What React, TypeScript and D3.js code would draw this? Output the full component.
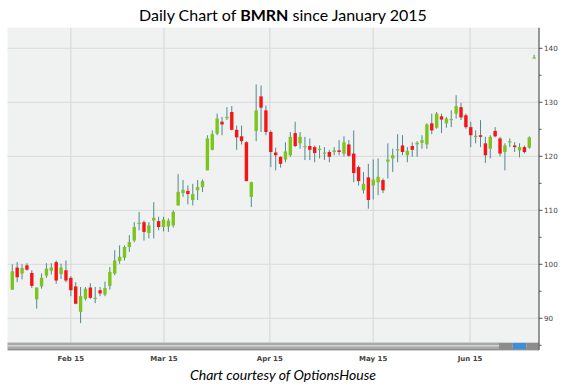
import React from "react";
import * as d3 from "d3";

const opens = [95.3,99.4,98.3,99.8,98.4,93.5,95.9,97.9,98.8,100.4,98.2,98.9,97.5,95.9,91.2,93.6,95.7,93.6,95.2,94.4,96.0,98.3,100.6,101.2,103.2,104.4,107.5,107.8,105.8,108.1,108.0,106.9,107.0,107.2,110.9,113.2,113.6,111.9,113.7,114.3,117.4,121.2,124.2,126.4,127.1,128.2,124.9,123.7,122.6,112.5,124.7,131.1,128.5,124.5,120.7,119.9,119.4,120.2,124.3,122.4,121.7,121.9,121.7,121.2,120.6,120.8,120.8,121.1,120.5,122.2,120.5,118.0,113.7,116.1,114.6,115.2,115.6,119.0,119.6,121.2,122.0,120.2,121.9,122.2,122.5,122.2,126.1,125.3,127.4,126.1,126.8,127.9,129.1,127.6,125.4,123.6,123.9,122.4,121.4,124.7,123.3,120.8,122.6,122.0,121.1,121.7,121.6,138.2];
const highs = [100.0,100.4,100.0,100.2,98.9,95.7,98.3,100.2,100.2,100.7,100.1,100.7,97.8,96.7,95.8,95.8,96.5,95.8,95.8,96.8,99.5,102.6,103.5,103.5,105.4,107.8,109.7,108.1,107.8,111.5,108.8,108.8,108.5,110.0,116.7,115.6,114.6,114.9,115.6,115.7,123.9,124.8,127.9,127.3,129.1,129.3,125.7,125.7,122.8,115.3,133.3,133.1,129.4,124.8,121.6,120.0,122.6,124.5,126.4,124.5,123.6,123.3,122.0,122.0,121.7,121.2,121.7,123.0,123.7,123.0,124.8,118.3,117.1,118.6,119.4,119.6,115.9,122.4,121.4,124.1,123.9,121.7,122.6,122.8,123.9,126.1,127.9,128.2,127.9,127.3,128.5,131.3,129.9,127.9,126.4,124.8,126.7,123.6,123.9,125.4,123.6,122.4,123.3,122.6,122.4,122.0,123.7,138.8];
const lows = [95.3,96.7,97.2,98.8,95.6,91.8,95.5,97.5,98.1,96.4,97.3,96.7,94.1,92.6,89.1,93.3,93.6,92.8,94.1,94.1,95.3,98.0,100.1,100.7,102.3,104.1,106.3,104.4,104.8,104.8,106.3,106.1,106.0,106.8,110.9,112.5,111.1,110.9,111.9,113.4,117.4,121.1,123.9,123.9,126.7,124.8,121.2,122.2,115.4,110.6,122.8,124.5,123.9,118.0,117.4,117.9,118.9,119.9,121.7,121.4,119.3,119.3,118.9,119.6,119.3,118.9,120.2,120.2,120.0,119.9,115.2,114.6,113.1,110.3,112.0,112.8,113.2,115.9,117.1,118.9,120.2,118.9,119.9,119.9,121.4,121.4,124.1,125.1,124.3,125.3,125.4,127.0,126.7,125.1,121.7,122.4,121.7,118.8,119.6,123.5,120.0,117.4,121.7,120.8,119.8,120.5,121.4,138.2];
const closes = [98.7,97.6,99.3,99.0,96.0,95.7,97.5,99.2,99.4,97.0,99.4,97.0,95.2,92.7,94.1,95.5,93.8,93.8,94.6,95.6,98.6,100.7,101.4,103.2,104.1,106.9,107.7,106.0,107.2,108.6,106.9,108.3,108.1,109.7,113.4,113.8,113.0,113.0,114.3,115.4,123.3,124.1,127.0,125.9,127.3,124.9,123.5,122.8,115.4,115.2,128.5,129.0,124.5,120.8,120.2,118.6,120.9,123.6,121.9,123.6,121.9,121.2,120.6,121.4,120.7,119.9,121.1,120.8,122.6,120.1,116.9,115.4,114.9,111.9,115.7,116.2,113.7,119.4,120.2,121.3,120.8,121.0,121.2,122.5,123.0,125.9,124.8,127.9,126.8,127.0,126.9,129.3,127.2,125.4,123.9,123.8,123.6,120.2,123.6,123.7,120.5,122.0,122.8,121.7,121.7,120.8,123.5,138.3];

const dateTickLabels = ["Feb 15", "Mar 15", "Apr 15", "May 15", "Jun 15"];
const dateTickIndex = [12, 31.1, 52.8, 74, 93.85];
const priceTicks = [90, 100, 110, 120, 130, 140];
const priceMinorTicks = [85, 95, 105, 115, 125, 135];

const W = 566;
const H = 388;
const plotLeft = 7.5;
const plotRight = 539;
const plotTop = 27.7;
const plotBottom = 342.5;

export default function App() {
  const x = d3.scaleLinear().domain([0, 106]).range([12.3, 529.3]);
  const y = d3.scaleLinear().domain([90, 140]).range([318.3, 48.3]);
  const bodyW = 3.4;
  const wick = "#4f8a90";
  const green = "#7cc41e";
  const red = "#f51515";
  const font = "DejaVu Sans, Verdana, sans-serif";

  return (
    <svg width={W} height={H} style={{ display: "block", position: "absolute", left: 0, top: 0, background: "#fff" }}>
      <text x={283} y={21} textAnchor="middle" fontFamily="Lato, 'Open Sans', sans-serif" fontSize={16} fill="#000">
        Daily Chart of <tspan fontWeight="bold">BMRN</tspan> since January 2015
      </text>
      <rect x={plotLeft} y={plotTop} width={plotRight - plotLeft} height={plotBottom - plotTop} fill="#f0f1f1" />
      {priceTicks.map((t) => (
        <line key={"hg" + t} x1={plotLeft} x2={plotRight} y1={y(t)} y2={y(t)} stroke="#d9dada" strokeWidth={1} />
      ))}
      {dateTickIndex.map((t, i) => (
        <line key={"vg" + i} x1={x(t)} x2={x(t)} y1={plotTop} y2={plotBottom} stroke="#d9dada" strokeWidth={1.2} />
      ))}
      {opens.map((o, i) => {
        const c = closes[i];
        const up = c >= o;
        const top = y(Math.max(o, c));
        const bot = y(Math.min(o, c));
        const h = Math.max(1.2, bot - top);
        const cx = x(i);
        return (
          <g key={"c" + i}>
            <line x1={cx} x2={cx} y1={y(highs[i])} y2={y(lows[i])} stroke={wick} strokeWidth={1} />
            <rect x={cx - bodyW / 2} y={top} width={bodyW} height={h} fill={up ? green : red} />
          </g>
        );
      })}
      {/* scrollbar */}
      <rect x={plotLeft} y={342.5} width={plotRight - plotLeft} height={6.8} fill="#a8a8a8" />
      <rect x={plotLeft} y={345} width={plotRight - plotLeft} height={1.6} fill="#d2d2d2" />
      <line x1={plotLeft} x2={plotRight} y1={349.8} y2={349.8} stroke="#6a6a6a" strokeWidth={1} />
      <rect x={499} y={343} width={13.5} height={6} fill="#8c8c8c" />
      <rect x={512.7} y={343} width={13.5} height={6} fill="#3d8fdc" />
      <rect x={526.5} y={343} width={12} height={6} fill="#8c8c8c" />
      {/* right axis */}
      <line x1={plotRight} x2={plotRight} y1={plotTop} y2={350} stroke="#555" strokeWidth={1.2} />
      {priceTicks.map((t) => (
        <g key={"yt" + t}>
          <line x1={plotRight} x2={plotRight + 3.5} y1={y(t)} y2={y(t)} stroke="#555" />
          <text x={544} y={y(t) + 2.6} fontFamily={font} fontSize={7.2} fill="#444">{t}</text>
        </g>
      ))}
      {priceMinorTicks.map((t) => (
        <line key={"ym" + t} x1={plotRight} x2={plotRight + 2.5} y1={y(t)} y2={y(t)} stroke="#555" />
      ))}
      {dateTickLabels.map((l, i) => (
        <text key={"xl" + i} x={x(dateTickIndex[i])} y={361} textAnchor="middle" fontFamily={font} fontSize={7} fontWeight="bold" fill="#444">{l}</text>
      ))}
      <text x={283} y={380} textAnchor="middle" fontFamily="Lato, 'Open Sans', sans-serif" fontStyle="italic" fontSize={14} fill="#000">
        Chart courtesy of OptionsHouse
      </text>
    </svg>
  );
}
